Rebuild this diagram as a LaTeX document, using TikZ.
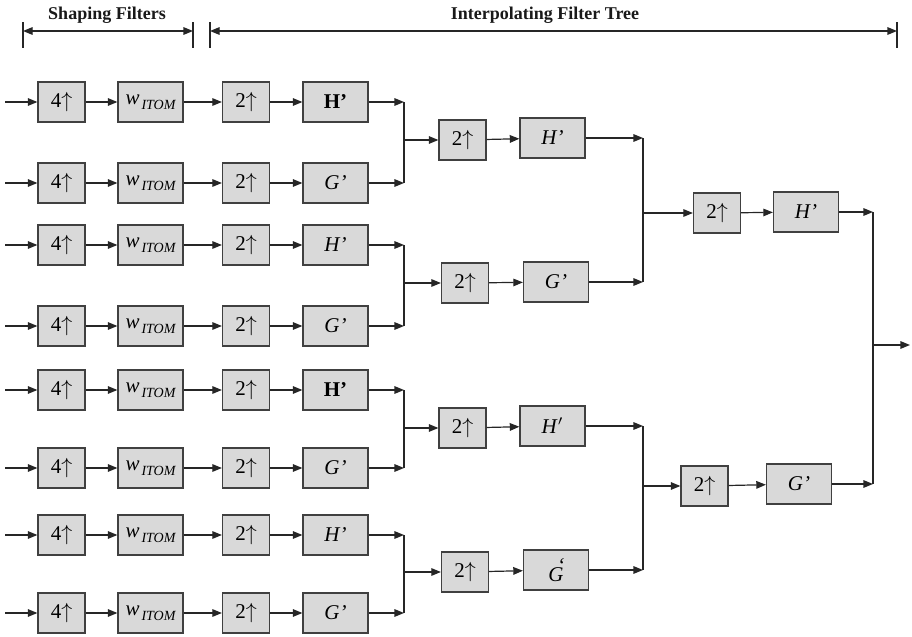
\documentclass[tikz,border=0pt]{standalone}
\usepackage{fontspec}
\setmainfont{Liberation Serif}
\usetikzlibrary{arrows.meta}
\begin{document}
\begin{tikzpicture}[x=0.5pt, y=-0.5pt, >={Triangle[length=4.8pt, width=3.8pt]}, color=black!85, line width=0.6pt]
  %
  \tikzstyle{up} = [draw=black!75, fill=black!15, text=black, minimum width=23.5pt, minimum height=20pt, inner sep=0.1pt, font=\fontsize{10.5}{12}\selectfont]
  \tikzstyle{filt} = [up, minimum width=32.5pt]
  \tikzstyle{head} = [text=black!90, font=\bfseries\fontsize{9}{11}\selectfont]
  \newcommand{\upby}[1]{#1$\uparrow$}
  \useasboundingbox (0,0) rectangle (912,637);
  % section brackets
  \node[head] (shaping) at (107,15) {Shaping Filters};
  \node[head] (tree) at (545,15) {Interpolating Filter Tree};
  \coordinate (sl) at (23,31);  \coordinate (sr) at (193,31);
  \coordinate (il) at (210,31); \coordinate (ir) at (897,31);
  \draw[<->] (sl) -- (sr);
  \draw[<->] (il) -- (ir);
  \foreach \c in {sl,sr,il,ir}
    \draw (\c) ++(0,-9) -- ++(0,26);
  % shaping filters and first interpolation stage
  \foreach \i/\y/\t in {1/102/{\textbf{H’}}, 2/183/{\textit{G’}}, 3/245/{\textit{H’}}, 4/326/{\textit{G’}},
                        5/390/{\textbf{H’}}, 6/468/{\textit{G’}}, 7/535/{\textit{H’}}, 8/613/{\textit{G’}}}
  {
    \coordinate (in\i) at (5,\y);
    \node[up] (a\i) at (61.5,\y) {\upby{4}};
    \node[filt] (w\i) at (150.5,\y) {\textit{w}\kern1pt\raisebox{-0.5ex}{\scriptsize\itshape ITOM}};
    \node[up] (b\i) at (246,\y) {\upby{2}};
    \node[filt] (f\i) at (335.5,\y) {\t};
    \draw[->] (in\i) -- (a\i);
    \draw[->] (a\i) -- (w\i);
    \draw[->] (w\i) -- (b\i);
    \draw[->] (b\i) -- (f\i);
  }
  % buses
  \coordinate (bus1) at (404,0);
  \coordinate (bus2) at (643,0);
  \coordinate (bus3) at (873,0);
  % second stage
  \node[up] (c1) at (462.5,140) {\upby{2}};  \node[filt] (d1) at (552.5,138) {\textit{H’}};
  \node[up] (c2) at (465,283) {\upby{2}};    \node[filt] (d2) at (556,282) {\textit{G’}};
  \node[up] (c3) at (462.5,428) {\upby{2}};  \node[filt] (d3) at (552.5,426) {\textit{H}$'$};
  \node[up] (c4) at (465,572) {\upby{2}};    \node[filt] (d4) at (556,570) {\textit{G}\rlap{\kern-0.3em\raisebox{0.9ex}{\textit{‘}}}};
  \foreach \p/\i/\k in {1/1/2, 2/3/4, 3/5/6, 4/7/8}
  {
    \draw[->] (f\i) -- (f\i -| bus1);
    \draw[->] (f\k) -- (f\k -| bus1);
    \draw (f\i -| bus1) -- (f\k -| bus1);
    \draw[->] (c\p -| bus1) -- (c\p);
    \draw[->] (c\p) -- (d\p);
  }
  % third stage
  \node[up] (e1) at (717,213) {\upby{2}};    \node[filt] (g1) at (806,212) {\textit{H’}};
  \node[up] (e2) at (704.5,486) {\upby{2}};  \node[filt] (g2) at (799,484) {\textit{G’}};
  \foreach \p/\i/\k in {1/1/2, 2/3/4}
  {
    \draw[->] (d\i) -- (d\i -| bus2);
    \draw[->] (d\k) -- (d\k -| bus2);
    \draw (d\i -| bus2) -- (d\k -| bus2);
    \draw[->] (e\p -| bus2) -- (e\p);
    \draw[->] (e\p) -- (g\p);
  }
  % output
  \coordinate (out) at (910,345);
  \draw[->] (g1) -- (g1 -| bus3);
  \draw[->] (g2) -- (g2 -| bus3);
  \draw (g1 -| bus3) -- (g2 -| bus3);
  \draw[->] (out -| bus3) -- (out);
\end{tikzpicture}
\end{document}
